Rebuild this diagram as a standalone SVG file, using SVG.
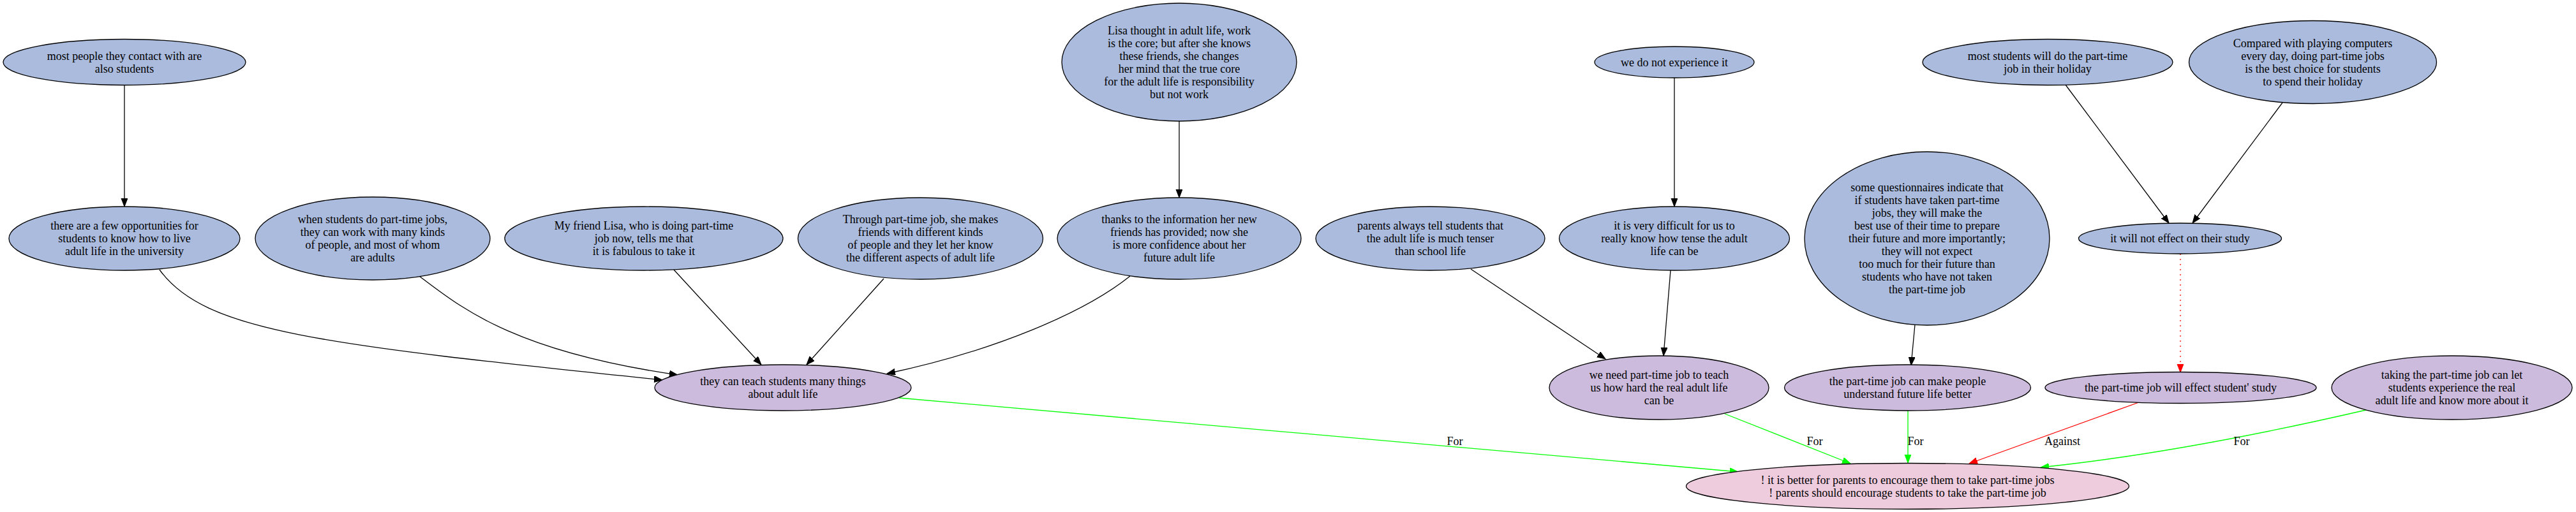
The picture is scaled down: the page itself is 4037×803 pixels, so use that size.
<svg xmlns="http://www.w3.org/2000/svg" width="4037" height="803" viewBox="0 0 4037 803">
<defs>
<style>
.n ellipse{stroke:#000;stroke-width:1.3}
.b ellipse{fill:#aabbdd}
.p ellipse{fill:#ccbbdd}
.m ellipse{fill:#eeccdd}
text{font-family:"Liberation Serif","Times New Roman",serif;font-size:18px;fill:#000;text-anchor:middle}
.e{fill:none;stroke-width:1.3}
.k{stroke:#000}
.g{stroke:#00ff00}
.r{stroke:#ff0000}
.d{stroke-dasharray:2,6}
</style>
<marker id="ak" markerUnits="userSpaceOnUse" markerWidth="14" markerHeight="11" refX="13" refY="5" orient="auto"><path d="M0,0 L13,5 L0,10 z" fill="#000" stroke="#000"/></marker>
<marker id="ag" markerUnits="userSpaceOnUse" markerWidth="14" markerHeight="11" refX="13" refY="5" orient="auto"><path d="M0,0 L13,5 L0,10 z" fill="#00ff00" stroke="#00ff00"/></marker>
<marker id="ar" markerUnits="userSpaceOnUse" markerWidth="14" markerHeight="11" refX="13" refY="5" orient="auto"><path d="M0,0 L13,5 L0,10 z" fill="#ff0000" stroke="#ff0000"/></marker>
</defs>
<rect width="4037" height="803" fill="#fff"/>
<g id="edges">
<path class="e k" d="M195,134 L195,324" marker-end="url(#ak)"/>
<path class="e k" d="M1848,190 L1848,310" marker-end="url(#ak)"/>
<path class="e k" d="M2624,122 L2624,324" marker-end="url(#ak)"/>
<path class="e k" d="M3237,133 L3399,350" marker-end="url(#ak)"/>
<path class="e k" d="M3577,161 L3436,350" marker-end="url(#ak)"/>
<path class="e k" d="M2305,422 L2516,563" marker-end="url(#ak)"/>
<path class="e k" d="M2618,424 L2607,558" marker-end="url(#ak)"/>
<path class="e k" d="M3001,509 L2995,573" marker-end="url(#ak)"/>
<path class="e k" d="M1056,423 L1193,572" marker-end="url(#ak)"/>
<path class="e k" d="M1385,437 L1264,572" marker-end="url(#ak)"/>
<path class="e k" d="M250,423 C320,520 500,540 1038,596" marker-end="url(#ak)"/>
<path class="e k" d="M657,433 C720,480 800,550 1062,588" marker-end="url(#ak)"/>
<path class="e k" d="M1771,433 C1700,490 1560,550 1390,586" marker-end="url(#ak)"/>
<path class="e r d" d="M3417,398 L3417,584" marker-end="url(#ar)"/>
<path class="e g" d="M1409,624 L2724,740" marker-end="url(#ag)"/>
<path class="e g" d="M2703,649 L2900,727" marker-end="url(#ag)"/>
<path class="e g" d="M2990,644 L2990,726" marker-end="url(#ag)"/>
<path class="e r" d="M3352,631 L3086,727" marker-end="url(#ar)"/>
<path class="e g" d="M3708,643 C3600,668 3400,712 3198,733" marker-end="url(#ag)"/>
<text x="2280" y="698">For</text>
<text x="2844" y="698">For</text>
<text x="3002" y="698">For</text>
<text x="3232" y="698">Against</text>
<text x="3513" y="698">For</text>
</g>
<g id="n1" class="n b"><ellipse cx="195" cy="97.5" rx="190" ry="36"/><text x="195" y="93.5">most people they contact with are<tspan x="195" dy="20">also students</tspan></text></g>
<g id="n2" class="n b"><ellipse cx="195" cy="374" rx="181" ry="50"/><text x="195" y="360">there are a few opportunities for<tspan x="195" dy="20">students to know how to live</tspan><tspan x="195" dy="20">adult life in the university</tspan></text></g>
<g id="n3" class="n b"><ellipse cx="584" cy="374" rx="184" ry="65"/><text x="584" y="350">when students do part-time jobs,<tspan x="584" dy="20">they can work with many kinds</tspan><tspan x="584" dy="20">of people, and most of whom</tspan><tspan x="584" dy="20">are adults</tspan></text></g>
<g id="n4" class="n b"><ellipse cx="1009" cy="374" rx="218" ry="50"/><text x="1009" y="360">My friend Lisa, who is doing part-time<tspan x="1009" dy="20">job now, tells me that</tspan><tspan x="1009" dy="20">it is fabulous to take it</tspan></text></g>
<g id="n5" class="n b"><ellipse cx="1442.5" cy="374" rx="192" ry="64"/><text x="1442.5" y="350">Through part-time job, she makes<tspan x="1442.5" dy="20">friends with different kinds</tspan><tspan x="1442.5" dy="20">of people and they let her know</tspan><tspan x="1442.5" dy="20">the different aspects of adult life</tspan></text></g>
<g id="n6" class="n b"><ellipse cx="1848" cy="97.5" rx="184" ry="92.5"/><text x="1848" y="53.5">Lisa thought in adult life, work<tspan x="1848" dy="20">is the core; but after she knows</tspan><tspan x="1848" dy="20">these friends, she changes</tspan><tspan x="1848" dy="20">her mind that the true core</tspan><tspan x="1848" dy="20">for the adult life is responsibility</tspan><tspan x="1848" dy="20">but not work</tspan></text></g>
<g id="n7" class="n b"><ellipse cx="1848" cy="374" rx="191" ry="64"/><text x="1848" y="350">thanks to the information her new<tspan x="1848" dy="20">friends has provided; now she</tspan><tspan x="1848" dy="20">is more confidence about her</tspan><tspan x="1848" dy="20">future adult life</tspan></text></g>
<g id="n8" class="n b"><ellipse cx="2241.5" cy="374" rx="179.5" ry="50"/><text x="2241.5" y="360">parents always tell students that<tspan x="2241.5" dy="20">the adult life is much tenser</tspan><tspan x="2241.5" dy="20">than school life</tspan></text></g>
<g id="n9" class="n b"><ellipse cx="2624" cy="97.5" rx="125" ry="24.5"/><text x="2624" y="103.5">we do not experience it</text></g>
<g id="n10" class="n b"><ellipse cx="2624" cy="374" rx="180.5" ry="50"/><text x="2624" y="360">it is very difficult for us to<tspan x="2624" dy="20">really know how tense the adult</tspan><tspan x="2624" dy="20">life can be</tspan></text></g>
<g id="n11" class="n b"><ellipse cx="3020" cy="374" rx="192" ry="136"/><text x="3020" y="300">some questionnaires indicate that<tspan x="3020" dy="20">if students have taken part-time</tspan><tspan x="3020" dy="20">jobs, they will make the</tspan><tspan x="3020" dy="20">best use of their time to prepare</tspan><tspan x="3020" dy="20">their future and more importantly;</tspan><tspan x="3020" dy="20">they will not expect</tspan><tspan x="3020" dy="20">too much for their future than</tspan><tspan x="3020" dy="20">students who have not taken</tspan><tspan x="3020" dy="20">the part-time job</tspan></text></g>
<g id="n12" class="n b"><ellipse cx="3209" cy="97.5" rx="196" ry="36"/><text x="3209" y="93.5">most students will do the part-time<tspan x="3209" dy="20">job in their holiday</tspan></text></g>
<g id="n13" class="n b"><ellipse cx="3624.5" cy="97.5" rx="194" ry="65"/><text x="3624.5" y="73.5">Compared with playing computers<tspan x="3624.5" dy="20">every day, doing part-time jobs</tspan><tspan x="3624.5" dy="20">is the best choice for students</tspan><tspan x="3624.5" dy="20">to spend their holiday</tspan></text></g>
<g id="n14" class="n b"><ellipse cx="3416.5" cy="374" rx="159" ry="24"/><text x="3416.5" y="380">it will not effect on their study</text></g>
<g id="p1" class="n p"><ellipse cx="1227" cy="608" rx="201" ry="36"/><text x="1227" y="604">they can teach students many things<tspan x="1227" dy="20">about adult life</tspan></text></g>
<g id="p2" class="n p"><ellipse cx="2600" cy="608" rx="172" ry="50"/><text x="2600" y="594">we need part-time job to teach<tspan x="2600" dy="20">us how hard the real adult life</tspan><tspan x="2600" dy="20">can be</tspan></text></g>
<g id="p3" class="n p"><ellipse cx="2989.5" cy="608" rx="193" ry="36"/><text x="2989.5" y="604">the part-time job can make people<tspan x="2989.5" dy="20">understand future life better</tspan></text></g>
<g id="p4" class="n p"><ellipse cx="3417.5" cy="608" rx="212.5" ry="24.5"/><text x="3417.5" y="614">the part-time job will effect student' study</text></g>
<g id="p5" class="n p"><ellipse cx="3842.5" cy="608" rx="188.5" ry="50"/><text x="3842.5" y="594">taking the part-time job can let<tspan x="3842.5" dy="20">students experience the real</tspan><tspan x="3842.5" dy="20">adult life and know more about it</tspan></text></g>
<g id="main" class="n m"><ellipse cx="2989.5" cy="762.5" rx="347" ry="36"/><text x="2989.5" y="758.5">! it is better for parents to encourage them to take part-time jobs<tspan x="2989.5" dy="20">! parents should encourage students to take the part-time job</tspan></text></g>
</svg>
